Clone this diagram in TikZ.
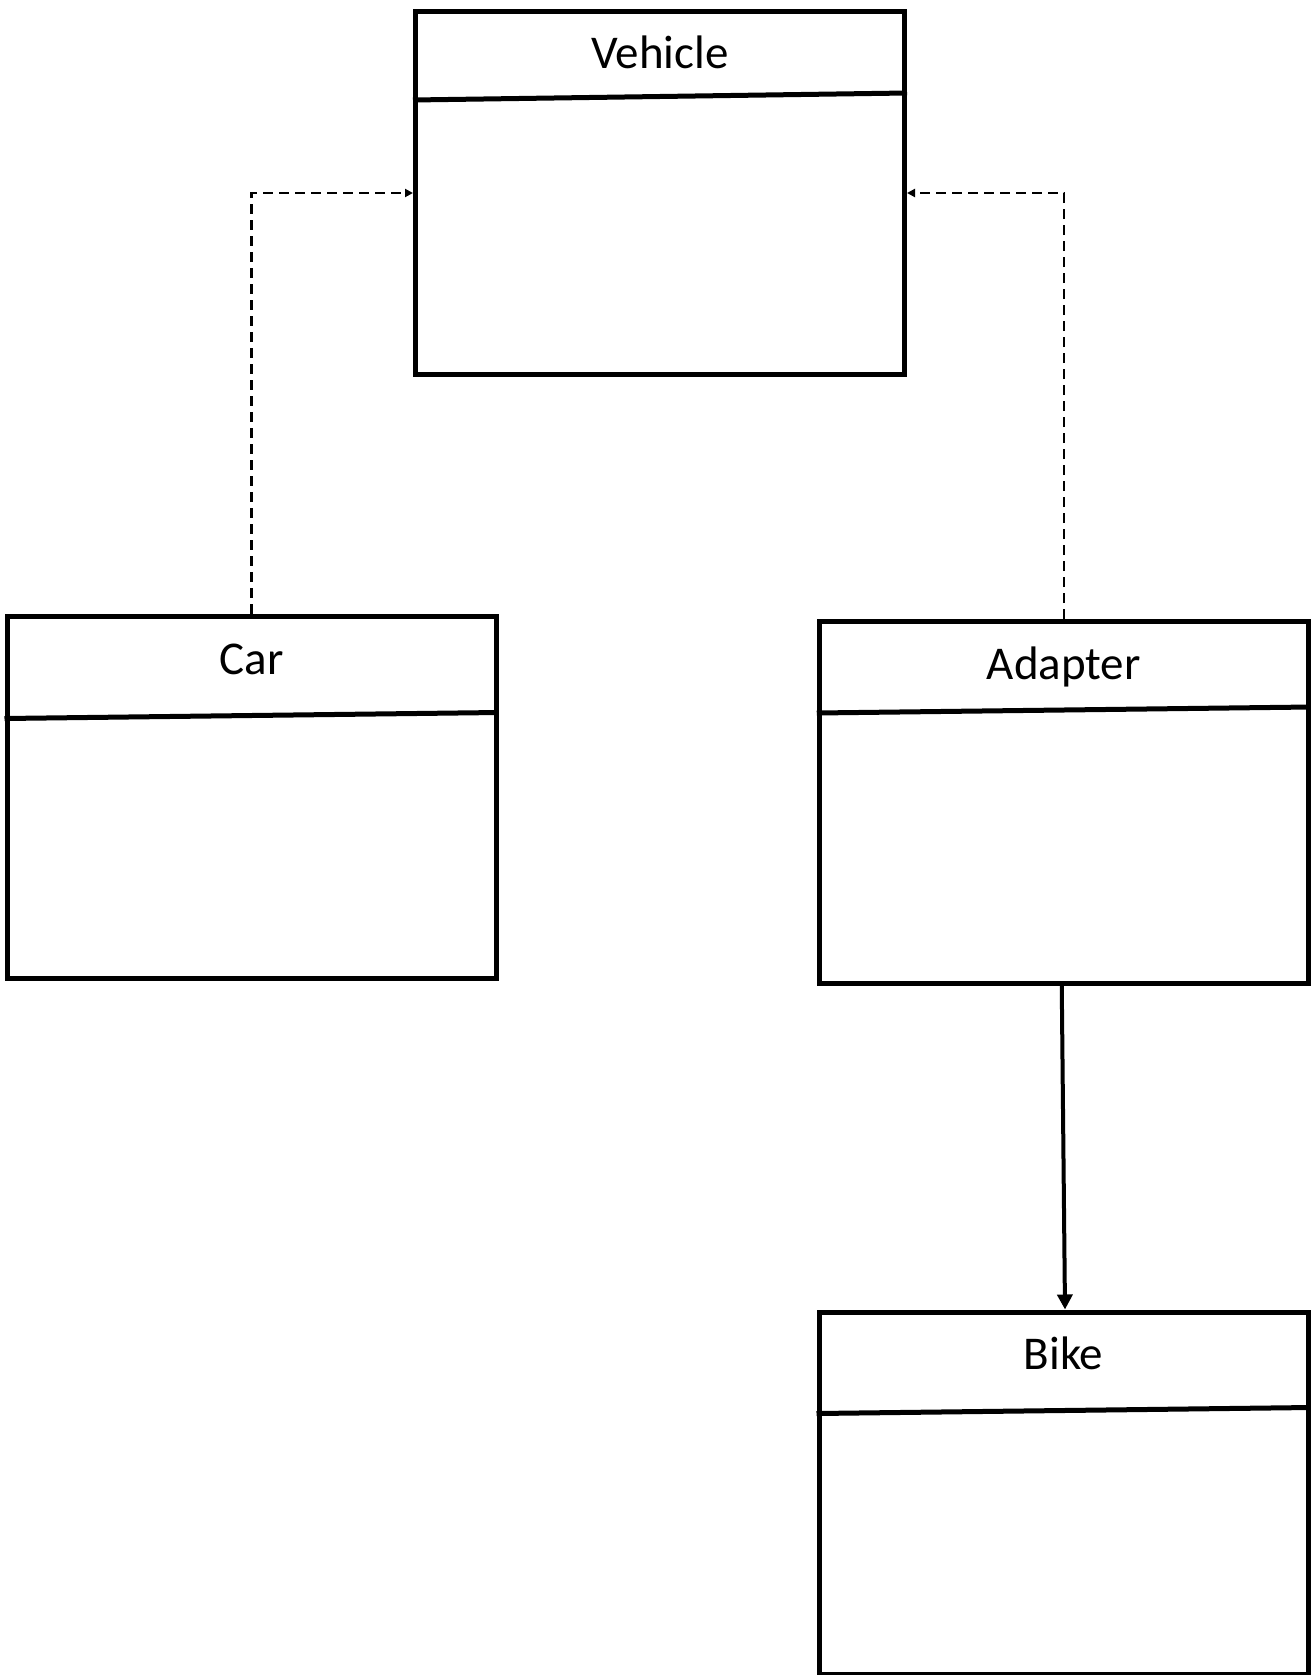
\documentclass[tikz,border=0pt]{standalone}
\usepackage{fontspec}
\setmainfont{Carlito}
\usetikzlibrary{arrows.meta,calc}

\tikzset{
  umlbox/.style={draw, line width=5pt, rectangle, minimum width=489pt, minimum height=362pt, inner sep=0pt},
  divider/.style={line width=5pt},
  boxtitle/.style={anchor=base, inner sep=0pt, font=\fontsize{47}{56}\selectfont},
  realize/.style={line width=2.5pt, dash pattern=on 10pt off 6pt, -{Triangle[length=8pt,width=8pt]}},
  assoc/.style={line width=4pt, -{Triangle[length=15pt,width=15pt]}}
}

\begin{document}
\begin{tikzpicture}[x=1pt,y=-1pt]
  \useasboundingbox (0,0) rectangle (1311,1675);

  % class boxes
  \node[umlbox] (veh) at (660,193) {};
  \node[umlbox] (car) at (251.5,797) {};
  \node[umlbox] (adp) at (1063.75,802.5) {};
  \node[umlbox] (bike) at (1063.5,1493) {};

  % header dividers (slightly slanted)
  \draw[divider] ($(veh.north west)+(0,90.5)$) -- ($(veh.north east)+(0,83.5)$);
  \draw[divider] ($(car.north west)+(0,105)$) -- ($(car.north east)+(0,99)$);
  \draw[divider] ($(adp.north west)+(0,94)$) -- ($(adp.north east)+(0,88)$);
  \draw[divider] ($(bike.north west)+(0,104)$) -- ($(bike.north east)+(0,98)$);

  % class names
  \node[boxtitle] (vehname) at ($(veh.north)+(0,59)$) {Vehicle};
  \node[boxtitle] (carname) at ($(car.north)+(0,60.5)$) {Car};
  \node[boxtitle] (adpname) at ($(adp.north)+(0,60.5)$) {Adapter};
  \node[boxtitle] (bikename) at ($(bike.north)+(0,60)$) {Bike};

  % connectors
  \draw[realize] (car.north) |- (veh.west);
  \draw[realize] (adp.north) |- (veh.east);
  \draw[assoc] ($(adp.south)+(-2,0)$) -- ($(bike.north)+(1.5,0)$);
\end{tikzpicture}
\end{document}
